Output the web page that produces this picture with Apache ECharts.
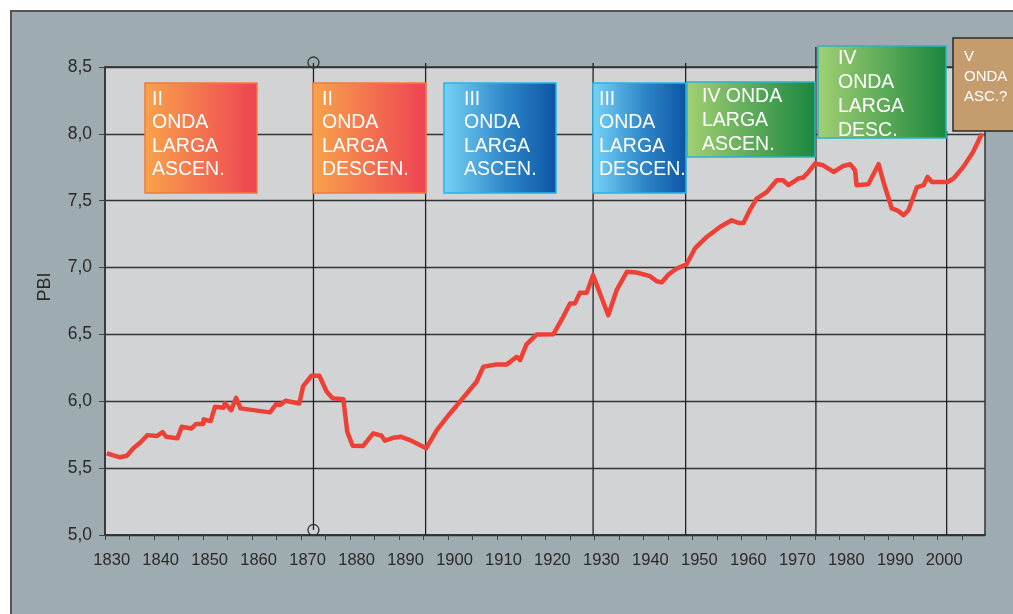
<!DOCTYPE html>
<html>
<head>
<meta charset="utf-8">
<script src="https://cdn.jsdelivr.net/npm/echarts@6/dist/echarts.min.js"></script>
<style>
  body { margin: 0; background: #fff; }
  #frame {
    position: absolute; left: 10px; top: 10px; width: 1003px; height: 604px;
    background: #9eabb0; border-top: 2px solid #555; border-left: 2px solid #555;
    box-sizing: border-box;
  }
  #main { position: absolute; left: 0; top: 0; width: 1013px; height: 614px; }
</style>
</head>
<body>
<div id="frame"></div>
<div id="main"></div>
<script>
// PBI (escala log)
const years = [1829, 1831.7, 1833.1, 1834.4, 1835.8, 1837.3, 1839.2, 1840.4, 1841.1, 1843.4,
    1844.3, 1846.3, 1847.2, 1848.7, 1848.8, 1850.2, 1851.1, 1852.8, 1853.1, 1854.4,
    1855.4, 1856.3, 1862.3, 1863.6, 1864.4, 1865.5, 1868.3, 1869.1, 1870.8, 1872.4,
    1873.9, 1875.1, 1877.3, 1878.1, 1879.2, 1881.3, 1883.4, 1885.1, 1885.8, 1887.5,
    1889, 1890.9, 1894.2, 1896.4, 1898.7, 1901.1, 1904.5, 1905.9, 1908.6, 1910.7,
    1912.7, 1913.4, 1914.7, 1916.8, 1920.2, 1922.2, 1923.6, 1924.6, 1925.6, 1927,
    1928.3, 1931.4, 1933.1, 1935.2, 1937.2, 1939.9, 1941.3, 1942.3, 1943.7, 1945.4,
    1947.4, 1949.1, 1951.5, 1954.2, 1956.6, 1958, 1959, 1960.3, 1961.7, 1963.8,
    1965.8, 1967.1, 1968.2, 1970.2, 1971.2, 1972.3, 1973.6, 1975.3, 1977.4, 1979.4,
    1980.8, 1981.8, 1982.1, 1984.5, 1986.6, 1987.6, 1989.3, 1990.6, 1991.7, 1992.7,
    1994.4, 1995.8, 1996.6, 1997.5, 2000.7, 2001.9, 2003.9, 2005.9, 2007.7];
const pbi = [5.611, 5.581, 5.593, 5.648, 5.690, 5.747, 5.740, 5.770, 5.735, 5.723,
    5.809, 5.797, 5.830, 5.830, 5.865, 5.852, 5.959, 5.951, 5.984, 5.934,
    6.026, 5.947, 5.917, 5.979, 5.972, 6.004, 5.984, 6.114, 6.191, 6.191,
    6.071, 6.022, 6.016, 5.772, 5.667, 5.665, 5.760, 5.742, 5.705, 5.727,
    5.735, 5.710, 5.648, 5.785, 5.892, 5.996, 6.146, 6.258, 6.276, 6.276,
    6.333, 6.308, 6.425, 6.500, 6.502, 6.632, 6.732, 6.732, 6.811, 6.811,
    6.943, 6.644, 6.831, 6.968, 6.963, 6.936, 6.898, 6.889, 6.948, 6.993,
    7.025, 7.143, 7.229, 7.304, 7.354, 7.334, 7.334, 7.429, 7.516, 7.566,
    7.653, 7.653, 7.616, 7.666, 7.673, 7.715, 7.778, 7.765, 7.715, 7.760,
    7.773, 7.728, 7.616, 7.623, 7.773, 7.640, 7.442, 7.424, 7.392, 7.429,
    7.599, 7.616, 7.678, 7.640, 7.640, 7.666, 7.753, 7.865, 8.002];

// años de corte entre ondas
const cortes = [1871.2, 1894.1, 1928.3, 1947.2, 1973.8, 2000.5];

const xLabels = [1830, 1840, 1850, 1860, 1870, 1880, 1890, 1900, 1910, 1920,
    1930, 1940, 1950, 1960, 1970, 1980, 1990, 2000];
const xMin = 1828.63, xMax = 2008.33;
const xTicks = [];
for (let t = xMin; t < 2006; t += 5) xTicks.push(t);

const FONT = '"Liberation Sans", Arial, sans-serif';

const naranja = [{ offset: 0, color: '#f8a34b' }, { offset: 1, color: '#ee4252' }];
const azul = [{ offset: 0, color: '#76d3f6' }, { offset: 0.55, color: '#2f86c8' }, { offset: 1, color: '#0b55a4' }];
const verde = [{ offset: 0, color: '#a2d073' }, { offset: 1, color: '#1a873f' }];

// cajas de las ondas (px)
const cajas = [
    { x: 145, y: 83, w: 112, h: 110, stops: naranja, stroke: '#f47a3c', tx: 152, ty: 88, lh: 23.4, fs: 19.5, text: ['II', 'ONDA', 'LARGA', 'ASCEN.'] },
    { x: 313, y: 83, w: 113, h: 110, stops: naranja, stroke: '#f47a3c', tx: 322, ty: 88, lh: 23.4, fs: 19.5, text: ['II', 'ONDA', 'LARGA', 'DESCEN.'] },
    { x: 444, y: 83, w: 112, h: 110, stops: azul, stroke: '#22b5ea', tx: 464, ty: 88, lh: 23.4, fs: 19.5, text: ['III', 'ONDA', 'LARGA', 'ASCEN.'] },
    { x: 593, y: 83, w: 93, h: 110, stops: azul, stroke: '#22b5ea', tx: 599, ty: 88, lh: 23.4, fs: 19.5, text: ['III', 'ONDA', 'LARGA', 'DESCEN.'] },
    { x: 687, y: 82, w: 128, h: 75, stops: verde, stroke: '#2bb3c8', tx: 702, ty: 85, lh: 23.7, fs: 19.5, text: ['IV ONDA', 'LARGA', 'ASCEN.'] },
    { x: 818, y: 46, w: 128, h: 92, stops: verde, stroke: '#2bb3c8', tx: 838, ty: 46.5, lh: 23.9, fs: 19.5, text: ['IV', 'ONDA', 'LARGA', 'DESC.'] },
    { x: 953, y: 38, w: 70, h: 93, fill: '#c59c6d', stroke: '#2b2b2b', tx: 964, ty: 47, lh: 20, fs: 15, text: ['V', 'ONDA', 'ASC.?'] }
];

var myChart = echarts.init(document.getElementById('main'));

var option = {
    animation: false,
    backgroundColor: 'transparent',
    textStyle: { fontFamily: FONT },
    grid: {
        left: 105, top: 67, right: 28, bottom: 79,
        show: true,
        backgroundColor: '#d1d3d5',
        borderColor: '#333',
        borderWidth: 1.5
    },
    xAxis: {
        type: 'value',
        min: xMin,
        max: xMax,
        axisLine: { show: true, lineStyle: { color: '#333', width: 1.5 } },
        axisTick: { show: true, length: 5, customValues: xTicks, lineStyle: { color: '#444' } },
        axisLabel: {
            customValues: xLabels,
            formatter: v => String(Math.round(v)),
            color: '#2a2a2a', fontSize: 16.5, margin: 17, fontFamily: FONT
        },
        splitLine: { show: false }
    },
    yAxis: {
        type: 'value',
        min: 5,
        max: 8.5,
        interval: 0.5,
        axisLine: { show: true, lineStyle: { color: '#333', width: 1.5 } },
        axisTick: { show: true, length: 6, lineStyle: { color: '#444' } },
        axisLabel: {
            formatter: v => v.toFixed(1).replace('.', ','),
            color: '#2a2a2a', fontSize: 17.5, margin: 13, fontFamily: FONT
        },
        splitLine: { show: true, lineStyle: { color: '#333', width: 1.3 } }
    },
    series: [
        {
            name: 'PBI',
            type: 'line',
            data: years.map((y, i) => [y, pbi[i]]),
            showSymbol: false,
            z: 5,
            lineStyle: { color: '#ee4136', width: 4.5, join: 'round' }
        }
    ]
};

myChart.setOption(option);

// líneas verticales de corte + cajas
const tops = [63, 63, 63, 63, 47, 131];
const graphics = [];
cortes.forEach(function (yr, i) {
    const p = myChart.convertToPixel({ gridIndex: 0 }, [yr, 5]);
    const bottom = i === 0 ? p[1] - 5 : p[1];
    graphics.push({
        type: 'line', z: 1, silent: true,
        shape: { x1: p[0], y1: tops[i], x2: p[0], y2: bottom },
        style: { stroke: '#222', lineWidth: 1.3 }
    });
    if (i === 0) {
        graphics.push({ type: 'circle', z: 6, shape: { cx: p[0], cy: tops[i] - 0.5, r: 5.5 }, style: { fill: 'none', stroke: '#333', lineWidth: 1.3 } });
        graphics.push({ type: 'circle', z: 6, shape: { cx: p[0], cy: bottom, r: 5.5 }, style: { fill: 'none', stroke: '#333', lineWidth: 1.3 } });
    }
});
cajas.forEach(function (c) {
    graphics.push({
        type: 'rect', z: 8,
        shape: { x: c.x, y: c.y, width: c.w, height: c.h },
        style: {
            fill: c.fill || { type: 'linear', x: 0, y: 0, x2: 1, y2: 0, colorStops: c.stops },
            stroke: c.stroke, lineWidth: 1.5
        }
    });
    graphics.push({
        type: 'text', z: 9,
        x: c.tx, y: c.ty,
        style: {
            text: c.text.join('\n'), fill: '#fff', font: c.fs + 'px ' + FONT,
            lineHeight: c.lh, verticalAlign: 'top', align: 'left'
        }
    });
});
graphics.push({
    type: 'text', z: 9, x: 45, y: 287, rotation: Math.PI / 2,
    style: { text: 'PBI', fill: '#2a2a2a', font: '18px ' + FONT, align: 'center', verticalAlign: 'middle' }
});

myChart.setOption({ graphic: graphics });
</script>
</body>
</html>
